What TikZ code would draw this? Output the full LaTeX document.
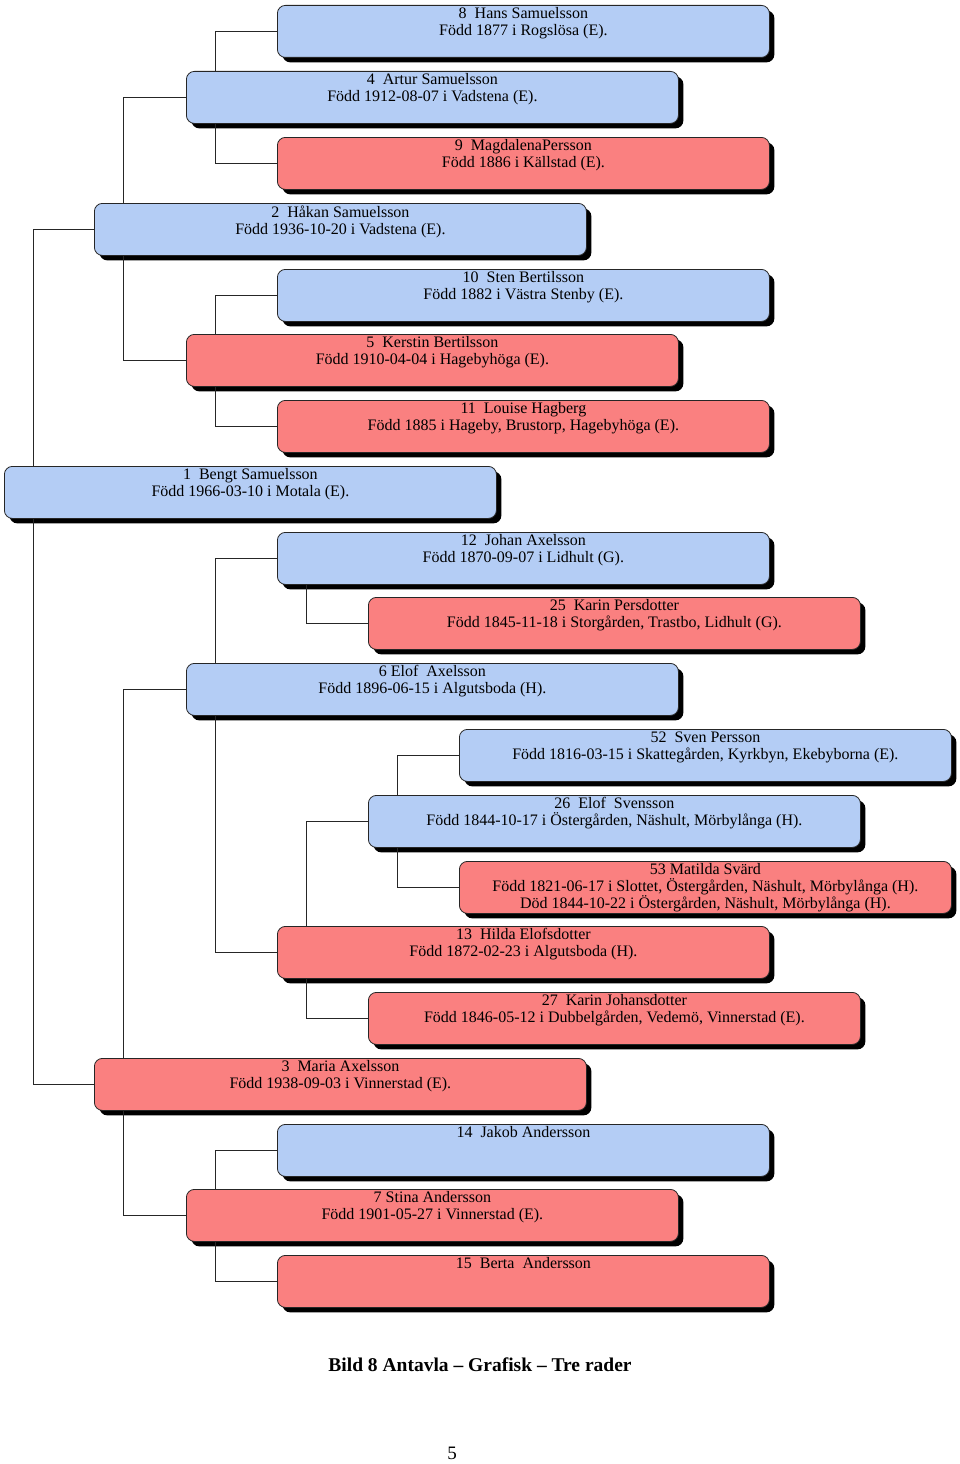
\documentclass[tikz,border=0pt]{standalone}
\usepackage{fontspec}
\setmainfont{Liberation Serif}
\usetikzlibrary{shadows}
\definecolor{malefill}{RGB}{180,205,245}
\definecolor{femalefill}{RGB}{250,128,128}
\begin{document}
\begin{tikzpicture}[x=1pt,y=-1pt,
    box/.style={draw=black!85, line width=0.8pt, rounded corners=8pt, anchor=north west,
      minimum width=492pt, minimum height=52pt, inner sep=0pt,
      drop shadow={shadow xshift=5pt, shadow yshift=-5pt, fill=black, opacity=1}},
    male/.style={box, fill=malefill},
    female/.style={box, fill=femalefill},
    txt/.style={anchor=north, align=center, inner sep=0pt, yshift=-2.5pt,
      font=\fontsize{16}{16.8}\selectfont},
    conn/.style={draw=black!85, line width=1pt}]
  \useasboundingbox (0,0) rectangle (960,1464);
  % fathers side
  \node[male, label={[txt]north:{8\ \ Hans Samuelsson\\Född 1877 i Rogslösa (E).}}] (n8) at (277,5) {};
  \node[male, label={[txt]north:{4\ \ Artur Samuelsson\\Född 1912-08-07 i Vadstena (E).}}] (n4) at (186,71) {};
  \node[female, label={[txt]north:{9\ \ MagdalenaPersson\\Född 1886 i Källstad (E).}}] (n9) at (277,137) {};
  \node[male, label={[txt]north:{2\ \ Håkan Samuelsson\\Född 1936-10-20 i Vadstena (E).}}] (n2) at (94,203) {};
  \node[male, label={[txt]north:{10\ \ Sten Bertilsson\\Född 1882 i Västra Stenby (E).}}] (n10) at (277,269) {};
  \node[female, label={[txt]north:{5\ \ Kerstin Bertilsson\\Född 1910-04-04 i Hagebyhöga (E).}}] (n5) at (186,334) {};
  \node[female, label={[txt]north:{11\ \ Louise Hagberg\\Född 1885 i Hageby, Brustorp, Hagebyhöga (E).}}] (n11) at (277,400) {};
  % proband
  \node[male, label={[txt]north:{1\ \ Bengt Samuelsson\\Född 1966-03-10 i Motala (E).}}] (n1) at (4,466) {};
  % mothers side
  \node[male, label={[txt]north:{12\ \ Johan Axelsson\\Född 1870-09-07 i Lidhult (G).}}] (n12) at (277,532) {};
  \node[female, label={[txt]north:{25\ \ Karin Persdotter\\Född 1845-11-18 i Storgården, Trastbo, Lidhult (G).}}] (n25) at (368,597) {};
  \node[male, label={[txt]north:{6 Elof\ \ Axelsson\\Född 1896-06-15 i Algutsboda (H).}}] (n6) at (186,663) {};
  \node[male, label={[txt]north:{52\ \ Sven Persson\\Född 1816-03-15 i Skattegården, Kyrkbyn, Ekebyborna (E).}}] (n52) at (459,729) {};
  \node[male, label={[txt]north:{26\ \ Elof\ \ Svensson\\Född 1844-10-17 i Östergården, Näshult, Mörbylånga (H).}}] (n26) at (368,795) {};
  \node[female, label={[txt]north:{53 Matilda Svärd\\Född 1821-06-17 i Slottet, Östergården, Näshult, Mörbylånga (H).\\Död 1844-10-22 i Östergården, Näshult, Mörbylånga (H).}}] (n53) at (459,861) {};
  \node[female, label={[txt]north:{13\ \ Hilda Elofsdotter\\Född 1872-02-23 i Algutsboda (H).}}] (n13) at (277,926) {};
  \node[female, label={[txt]north:{27\ \ Karin Johansdotter\\Född 1846-05-12 i Dubbelgården, Vedemö, Vinnerstad (E).}}] (n27) at (368,992) {};
  \node[female, label={[txt]north:{3\ \ Maria Axelsson\\Född 1938-09-03 i Vinnerstad (E).}}] (n3) at (94,1058) {};
  \node[male, label={[txt]north:{14\ \ Jakob Andersson}}] (n14) at (277,1124) {};
  \node[female, label={[txt]north:{7 Stina Andersson\\Född 1901-05-27 i Vinnerstad (E).}}] (n7) at (186,1189) {};
  \node[female, label={[txt]north:{15\ \ Berta\ \ Andersson}}] (n15) at (277,1255) {};
  % child to father and mother
  \foreach \c/\f/\m in {4/8/9, 2/4/5, 5/10/11, 1/2/3, 6/12/13, 13/26/27, 26/52/53, 3/6/7, 7/14/15} {
    \draw[conn] ([xshift=29pt]n\c.north west) |- (n\f.west);
    \draw[conn] ([xshift=29pt]n\c.south west) |- (n\m.west);
  }
  \draw[conn] ([xshift=29pt]n12.south west) |- (n25.west);
  % caption
  \node[font=\bfseries\fontsize{19.5}{21}\selectfont] (caption) at (480,1365) {Bild 8 Antavla – Grafisk – Tre rader};
  \node[font=\fontsize{19}{20}\selectfont] (pagenum) at (452,1453) {5};
\end{tikzpicture}
\end{document}
